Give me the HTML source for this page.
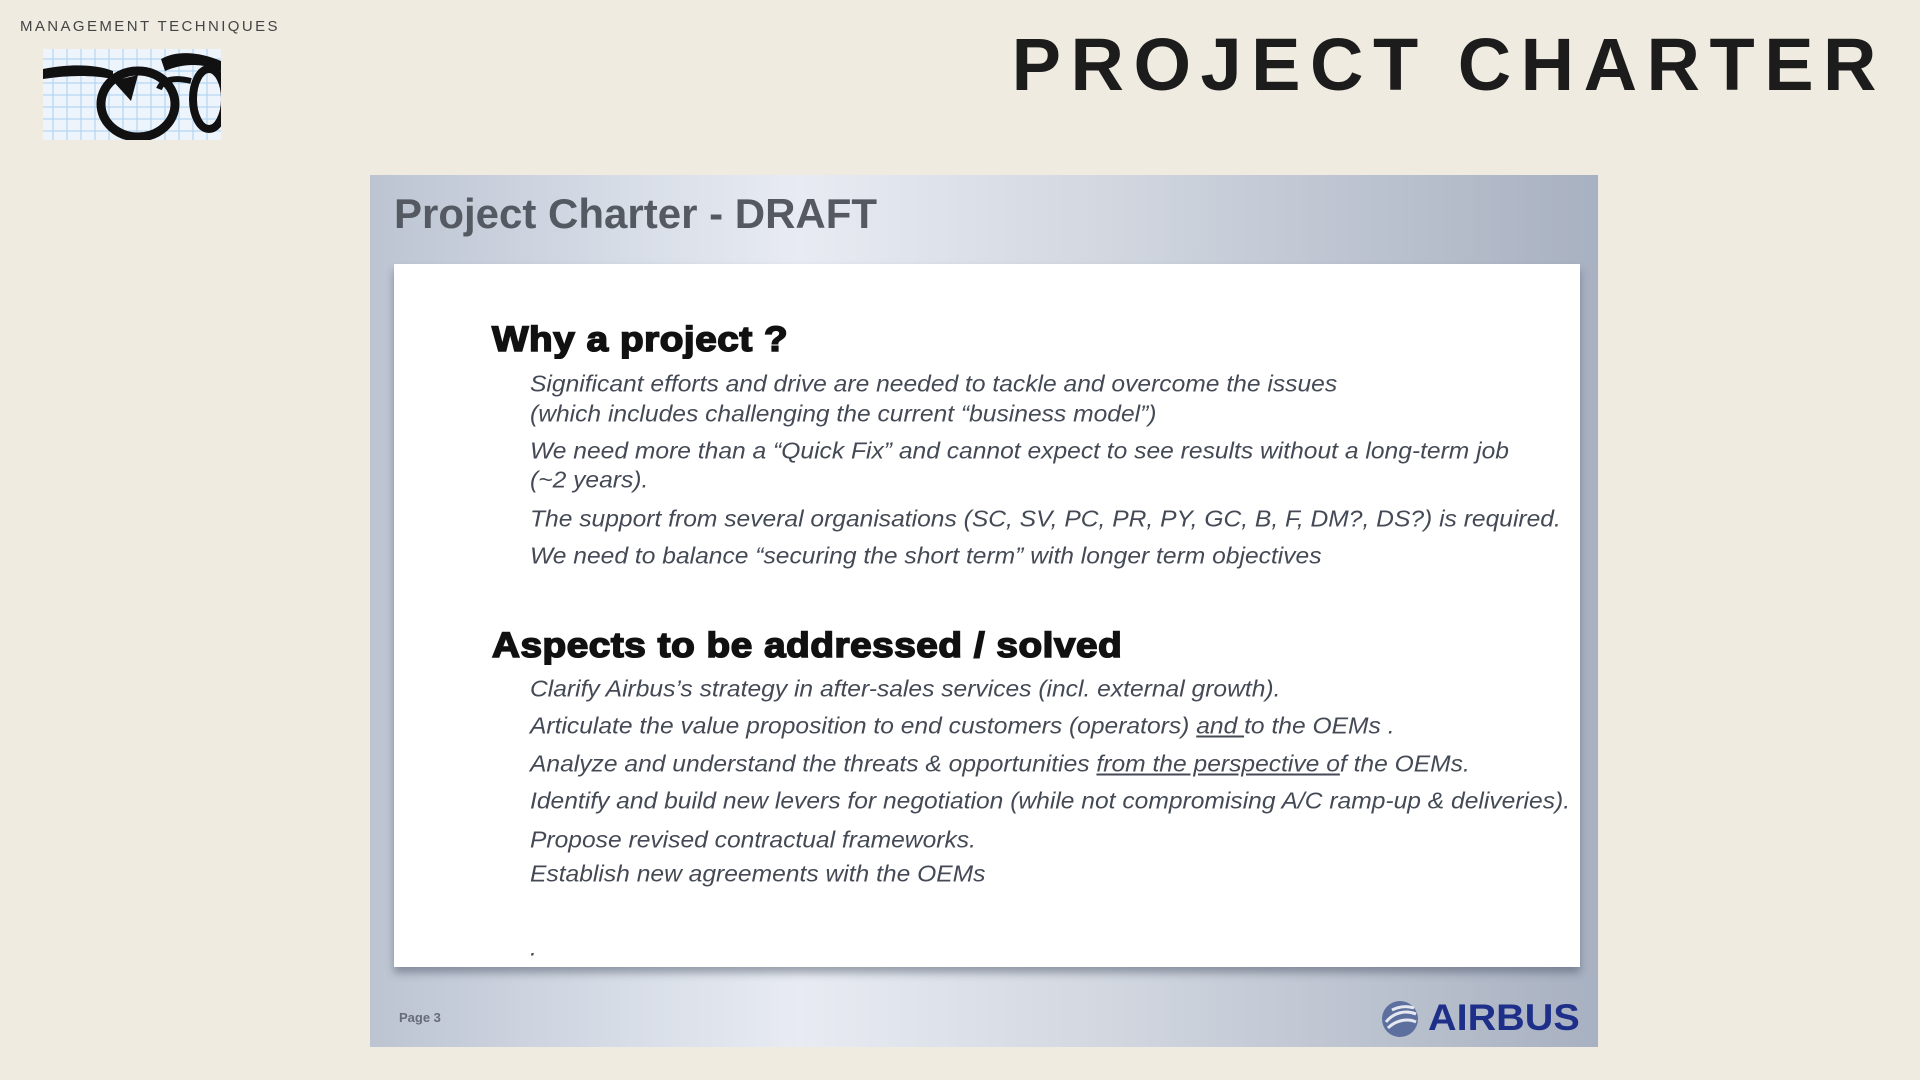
<!DOCTYPE html>
<html><head><meta charset="utf-8"><style>
*{margin:0;padding:0;box-sizing:border-box}
body{width:1920px;height:1080px;background:#efebe1;position:relative;overflow:hidden;font-family:"Liberation Sans",sans-serif}
.abs{position:absolute;white-space:nowrap}
.slide{left:370px;top:175px;width:1228px;height:872px;background:linear-gradient(90deg,#bcc4d2 0%,#d6dce6 20%,#e8ebf2 35%,#d2d7e0 60%,#a8b1c1 100%)}
.panel{left:394px;top:264px;width:1186px;height:703px;background:#fff;box-shadow:0 6px 8px rgba(60,70,90,.45)}
.stitle{left:394px;top:190px;font-size:42px;font-weight:bold;color:#555a62}
.h{left:492px;font-size:35px;font-weight:900;color:#111;-webkit-text-stroke:1.6px #111;transform:scaleX(1.105);transform-origin:left top;letter-spacing:0.5px}
.b{left:530px;font-size:23px;font-style:italic;color:#444a55;transform:translateY(-50%) scaleX(1.07);transform-origin:left center}
u{text-decoration:underline}
</style></head><body>
<div class="abs" style="left:20px;top:18px;font-size:15px;letter-spacing:2.4px;color:#444">MANAGEMENT TECHNIQUES</div>
<svg class="abs" style="left:43px;top:49px" width="178" height="91" viewBox="0 0 178 91">
<rect width="178" height="91" fill="#eef4fb"/>
<g stroke="#a8d0f0" stroke-width="1">
<path d="M0 10H178M0 22H178M0 34H178M0 46H178M0 58H178M0 70H178M0 82H178M10 0V91M24 0V91M38 0V91M52 0V91M66 0V91M80 0V91M94 0V91M108 0V91M122 0V91M136 0V91M150 0V91M164 0V91"/></g>
<path d="M0 20 C30 14 55 16 70 22 L70 30 C50 26 25 26 0 30 Z" fill="#111"/>
<path d="M118 10 C135 0 160 4 178 12 L178 22 C160 14 140 14 122 22 Z" fill="#111"/>
<ellipse cx="95" cy="55" rx="37" ry="33" fill="none" stroke="#111" stroke-width="9"/>
<ellipse cx="166" cy="50" rx="16" ry="30" fill="none" stroke="#111" stroke-width="8"/>
<path d="M116 40 C120 30 132 28 148 32" stroke="#111" stroke-width="6" fill="none"/>
<path d="M70 32 L95 26 L88 52 Z" fill="#111"/>
</svg>
<div class="abs" style="right:34px;top:22px;font-size:74px;font-weight:bold;letter-spacing:9.5px;color:#1c1c1c">PROJECT CHARTER</div>
<div class="abs slide"></div>
<div class="abs stitle">Project Charter - DRAFT</div>
<div class="abs panel"></div>
<div class="abs h" style="top:320px">Why a project ?</div>
<div class="abs b" style="top:384px">Significant efforts and drive are needed to tackle and overcome the issues</div>
<div class="abs b" style="top:414px">(which includes challenging the current “business model”)</div>
<div class="abs b" style="top:451px">We need more than a “Quick Fix” and cannot expect to see results without a long-term job</div>
<div class="abs b" style="top:480px">(~2 years).</div>
<div class="abs b" style="top:519px">The support from several organisations (SC, SV, PC, PR, PY, GC, B, F, DM?, DS?) is required.</div>
<div class="abs b" style="top:556px">We need to balance “securing the short term” with longer term objectives</div>
<div class="abs h" style="top:626px">Aspects to be addressed / solved</div>
<div class="abs b" style="top:689px">Clarify Airbus’s strategy in after-sales services (incl. external growth).</div>
<div class="abs b" style="top:726px">Articulate the value proposition to end customers (operators) <u>and </u>to the OEMs .</div>
<div class="abs b" style="top:764px">Analyze and understand the threats &amp; opportunities <u>from the perspective o</u>f the OEMs.</div>
<div class="abs b" style="top:801px">Identify and build new levers for negotiation (while not compromising A/C ramp-up &amp; deliveries).</div>
<div class="abs b" style="top:840px">Propose revised contractual frameworks.</div>
<div class="abs b" style="top:874px">Establish new agreements with the OEMs</div>
<div class="abs b" style="top:948px">.</div>
<div class="abs" style="left:399px;top:1010px;font-size:13px;font-weight:bold;color:#666c78">Page 3</div>
<svg class="abs" style="left:1380px;top:998px" width="40" height="42" viewBox="0 0 40 42">
<circle cx="20" cy="21" r="18" fill="#5d6f9e"/><path d="M6 24 C14 14 26 12 36 16 M8 30 C16 22 28 20 36 24 M12 12 C20 8 28 8 34 10" stroke="#e6e9f0" stroke-width="3" fill="none"/></svg>
<div class="abs" style="left:1428px;top:997px;font-size:37px;font-weight:bold;color:#1d2f88;letter-spacing:0px;transform:scaleX(1.07);transform-origin:left top">AIRBUS</div>
</body></html>
